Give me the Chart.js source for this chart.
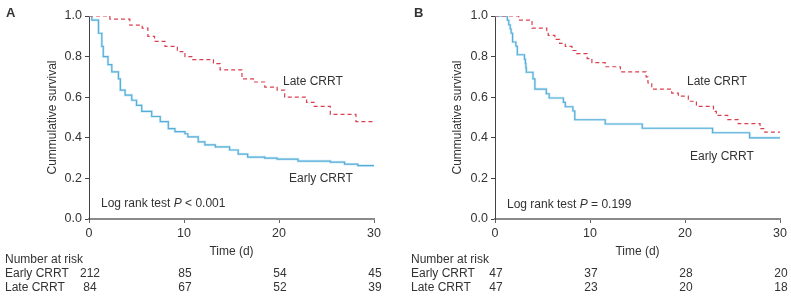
<!DOCTYPE html>
<html>
<head>
<meta charset="utf-8">
<script src="https://cdn.jsdelivr.net/npm/chart.js@4.4.1/dist/chart.umd.min.js"></script>
<style>
  html, body { margin: 0; padding: 0; background: #fff; }
  #wrap { position: relative; width: 791px; height: 297px; overflow: hidden; }
  .pane { position: absolute; top: 0; height: 297px; }
  #pa { left: 0; width: 395px; }
  #pb { left: 395px; width: 396px; }
</style>
</head>
<body>
<div id="wrap">
  <div class="pane" id="pa"><canvas id="ca" width="395" height="297"></canvas></div>
  <div class="pane" id="pb"><canvas id="cb" width="396" height="297"></canvas></div>
</div>
<script>
// ---------- DATA ----------
const xTicks = [0, 10, 20, 30];
const yTicks = [0.0, 0.2, 0.4, 0.6, 0.8, 1.0];

// Panel A, Early CRRT (time in days, survival)
const aEarlyT = [0, 0.3, 1.0, 1.35, 1.5, 2.0, 2.4, 3.1, 3.3, 3.8, 4.5, 5.0, 5.55, 6.6, 7.5, 8.35, 9.05, 10.1, 10.4, 11.5, 12.2, 13.3, 14.8, 15.7, 16.7, 18.5, 19.8, 22.0, 25.4, 26.9, 28.3, 30];
const aEarlyS = [1.0, 0.98, 0.915, 0.85, 0.80, 0.76, 0.725, 0.69, 0.635, 0.61, 0.585, 0.56, 0.53, 0.505, 0.48, 0.445, 0.43, 0.42, 0.405, 0.38, 0.365, 0.355, 0.34, 0.32, 0.305, 0.30, 0.295, 0.285, 0.28, 0.27, 0.263, 0.263];
// Panel A, Late CRRT
const aLateT = [0, 2.2, 4.3, 5.6, 6.2, 6.9, 8.0, 9.3, 10.1, 10.9, 13.1, 13.8, 16.1, 17.3, 18.5, 19.8, 20.6, 22.9, 23.7, 25.4, 28.1, 30];
const aLateS = [1.0, 0.985, 0.955, 0.94, 0.90, 0.875, 0.85, 0.825, 0.80, 0.785, 0.765, 0.735, 0.69, 0.675, 0.65, 0.635, 0.60, 0.575, 0.555, 0.515, 0.48, 0.48];
// Panel B, Early CRRT
const bEarlyT = [0, 1.3, 1.45, 1.6, 1.7, 1.85, 2.2, 2.35, 3.1, 3.2, 3.25, 3.3, 4.0, 4.2, 5.4, 5.7, 7.2, 7.4, 8.2, 8.4, 11.6, 15.5, 22.9, 26.8, 30];
const bEarlyS = [1.0, 0.979, 0.957, 0.936, 0.915, 0.872, 0.851, 0.809, 0.787, 0.766, 0.745, 0.723, 0.69, 0.64, 0.617, 0.596, 0.575, 0.553, 0.532, 0.489, 0.468, 0.447, 0.425, 0.40, 0.40];
// Panel B, Late CRRT
const bLateT = [0, 2.5, 3.9, 5.45, 5.6, 6.3, 6.8, 7.4, 8.1, 8.6, 9.7, 10.2, 11.6, 13.2, 15.9, 16.1, 16.5, 18.6, 19.3, 20.35, 21.2, 23.0, 23.3, 24.5, 25.6, 27.9, 28.4, 30];
const bLateS = [1.0, 0.98, 0.94, 0.92, 0.905, 0.885, 0.865, 0.85, 0.83, 0.815, 0.79, 0.77, 0.75, 0.725, 0.70, 0.67, 0.64, 0.62, 0.605, 0.58, 0.555, 0.53, 0.51, 0.49, 0.47, 0.445, 0.428, 0.428];

// Number at risk (at xTicks)
const riskAEarly = [212, 85, 54, 45];
const riskALate = [84, 67, 52, 39];
const riskBEarly = [47, 37, 28, 20];
const riskBLate = [47, 23, 20, 18];

const seriesNames = ['Early CRRT', 'Late CRRT'];
const yTitle = 'Cummulative survival';
const xTitle = 'Time (d)';
const riskTitle = 'Number at risk';

// ---------- CHART ----------
const FONT = '"Liberation Sans", Arial, Helvetica, sans-serif';
const TXT = '#333333';
const BLUE = '#2290c6';
const RED = '#d9404f';

function pts(t, s) { return t.map((v, i) => ({ x: v, y: s[i] })); }

function makeChart(canvasId, cfg) {
  const textPlugin = {
    id: 'texts',
    afterDraw(chart) {
      const ctx = chart.ctx;
      const xs = chart.scales.x;
      const ca = chart.chartArea;
      ctx.save();
      ctx.fillStyle = TXT;
      ctx.font = 'bold 13px ' + FONT;
      ctx.textAlign = 'left'; ctx.textBaseline = 'middle';
      ctx.fillText(cfg.letter, cfg.letterX, 13);
      ctx.font = '12px ' + FONT;
      ctx.save();
      ctx.translate(cfg.yTitleX, (ca.top + ca.bottom) / 2);
      ctx.rotate(-Math.PI / 2);
      ctx.textAlign = 'center';
      ctx.fillText(yTitle, 0, 0);
      ctx.restore();
      ctx.textAlign = 'center';
      ctx.fillText(xTitle, (ca.left + ca.right) / 2, 252);
      ctx.textAlign = 'left';
      ctx.fillText(seriesNames[1], cfg.lateLbl[0], cfg.lateLbl[1]);
      ctx.fillText(seriesNames[0], cfg.earlyLbl[0], cfg.earlyLbl[1]);
      let x = cfg.logLbl[0];
      const y = cfg.logLbl[1];
      const p1 = 'Log rank test ';
      ctx.fillText(p1, x, y); x += ctx.measureText(p1).width;
      ctx.font = 'italic 12px ' + FONT;
      ctx.fillText('P', x, y); x += ctx.measureText('P').width;
      ctx.font = '12px ' + FONT;
      ctx.fillText(cfg.pText, x, y);
      ctx.fillText(riskTitle, cfg.riskX, 260);
      ctx.fillText(seriesNames[0], cfg.riskX, 274);
      ctx.fillText(seriesNames[1], cfg.riskX, 288);
      ctx.textAlign = 'center';
      xTicks.forEach((t, i) => {
        const px = xs.getPixelForValue(t);
        ctx.fillText(String(cfg.riskE[i]), px + 1, 274);
        ctx.fillText(String(cfg.riskL[i]), px + 1, 288);
      });
      ctx.restore();
    }
  };

  return new Chart(document.getElementById(canvasId), {
    type: 'line',
    data: {
      datasets: [
        {
          label: seriesNames[1],
          data: pts(cfg.lateT, cfg.lateS),
          borderColor: RED, borderWidth: 1.2, borderDash: [4, 3],
          stepped: true, pointRadius: 0, fill: false
        },
        {
          label: seriesNames[0] + ' halo',
          data: pts(cfg.earlyT, cfg.earlyS),
          borderColor: 'rgba(150,210,238,0.45)', borderWidth: 2.6,
          stepped: true, pointRadius: 0, fill: false
        },
        {
          label: seriesNames[0],
          data: pts(cfg.earlyT, cfg.earlyS),
          borderColor: BLUE, borderWidth: 1.2,
          stepped: true, pointRadius: 0, fill: false
        }
      ]
    },
    options: {
      responsive: false, animation: false,
      devicePixelRatio: 1,
      layout: { padding: { left: 0, right: cfg.padRight, top: 16, bottom: 0 } },
      plugins: { legend: { display: false }, tooltip: { enabled: false } },
      scales: {
        x: {
          type: 'linear', min: 0, max: 30,
          afterBuildTicks: (s) => { s.ticks = xTicks.map(v => ({ value: v })); },
          afterFit: (s) => { s.height = 78; },
          grid: { drawOnChartArea: false, drawTicks: true, tickLength: 4, tickColor: '#666', tickWidth: 1 },
          border: { display: true, color: '#8a8a8a', width: 2 },
          ticks: { color: TXT, font: { family: FONT, size: 12.5 }, padding: 3, maxRotation: 0 }
        },
        y: {
          type: 'linear', min: 0, max: 1,
          afterBuildTicks: (s) => { s.ticks = yTicks.map(v => ({ value: v })); },
          afterFit: (s) => { s.width = cfg.yWidth; },
          grid: { drawOnChartArea: false, drawTicks: true, tickLength: 4, tickColor: '#444', tickWidth: 1 },
          border: { display: true, color: '#444', width: 1 },
          ticks: { color: TXT, font: { family: FONT, size: 12.5 }, padding: 3, callback: (v) => Number(v).toFixed(1) }
        }
      }
    },
    plugins: [textPlugin]
  });
}

makeChart('ca', {
  letter: 'A', letterX: 6, yTitleX: 53, yWidth: 89, padRight: 21,
  earlyT: aEarlyT, earlyS: aEarlyS, lateT: aLateT, lateS: aLateS,
  lateLbl: [283, 82], earlyLbl: [289, 179], logLbl: [101, 204], pText: ' < 0.001',
  riskX: 5, riskE: riskAEarly, riskL: riskALate
});
makeChart('cb', {
  letter: 'B', letterX: 19, yTitleX: 63, yWidth: 100, padRight: 11,
  earlyT: bEarlyT, earlyS: bEarlyS, lateT: bLateT, lateS: bLateS,
  lateLbl: [292, 82], earlyLbl: [295, 157], logLbl: [112, 205], pText: ' = 0.199',
  riskX: 16, riskE: riskBEarly, riskL: riskBLate
});
</script>
</body>
</html>
